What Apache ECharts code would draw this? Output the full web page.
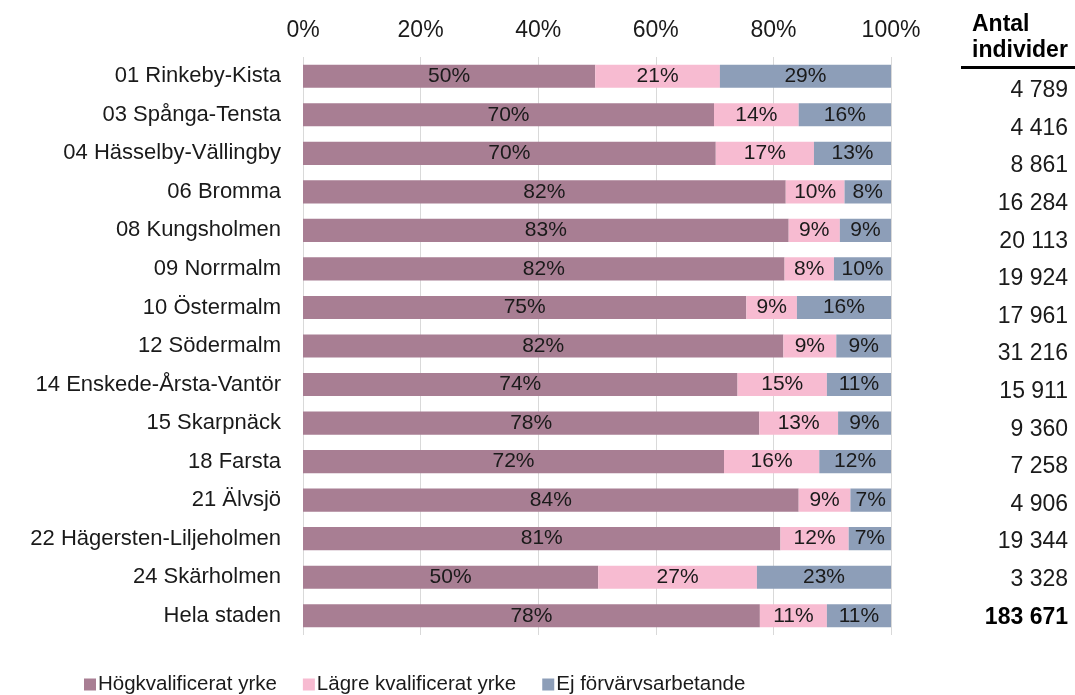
<!DOCTYPE html>
<html>
<head>
<meta charset="utf-8">
<script src="https://cdn.jsdelivr.net/npm/echarts@6/dist/echarts.min.js"></script>
<style>
html,body{margin:0;padding:0;background:#fff;}
#chart{width:1075px;height:695px;}
</style>
</head>
<body>
<div id="chart"></div>
<script>
var categories = ['01 Rinkeby-Kista','03 Spånga-Tensta','04 Hässelby-Vällingby','06 Bromma','08 Kungsholmen','09 Norrmalm','10 Östermalm','12 Södermalm','14 Enskede-Årsta-Vantör','15 Skarpnäck','18 Farsta','21 Älvsjö','22 Hägersten-Liljeholmen','24 Skärholmen','Hela staden'];
var hogkval = [49.7, 69.9, 70.2, 82.1, 82.6, 81.9, 75.4, 81.7, 73.9, 77.6, 71.6, 84.3, 81.2, 50.2, 77.7];
var lagre   = [21.2, 14.4, 16.7, 10.0, 8.7, 8.4, 8.6, 9.0, 15.2, 13.4, 16.2, 8.8, 11.6, 27.0, 11.4];
var ej      = [29.1, 15.7, 13.1, 7.9, 8.7, 9.7, 16.0, 9.3, 10.9, 9.0, 12.2, 6.9, 7.2, 22.8, 10.9];
var antal   = [4789, 4416, 8861, 16284, 20113, 19924, 17961, 31216, 15911, 9360, 7258, 4906, 19344, 3328, 183671];
var xTicks  = ['0%','20%','40%','60%','80%','100%'];
var seriesNames = ['Högkvalificerat yrke','Lägre kvalificerat yrke','Ej förvärvsarbetande'];
var colors = ['#a87e93','#f7bbd1','#8d9eb8'];

var FONT = 'Liberation Sans, Arial, sans-serif';
function fmtNum(n){ return String(n).replace(/\B(?=(\d{3})+(?!\d))/g,' '); }

var chart = echarts.init(document.getElementById('chart'));
function mk(name, data, color){
  return {
    name: name, type: 'bar', stack: 'tot', data: data,
    xAxisIndex: 0, yAxisIndex: 0,
    barWidth: '60%',
    itemStyle: {color: color},
    label: {show: true, position: 'inside', color: '#1a1a1a', fontSize: 21, fontFamily: FONT,
      formatter: function(p){ return Math.round(p.value) + '%'; }}
  };
}
chart.setOption({
  animation: false,
  textStyle: {fontFamily: FONT},
  grid: [
    {left: 303, right: 184, top: 57, bottom: 60},
    {left: 1068, width: 1, top: 72, bottom: 59}
  ],
  xAxis: [
    {type: 'value', gridIndex: 0, min: 0, max: 100, interval: 20, position: 'top',
     axisLine: {show: false}, axisTick: {show: false},
     splitLine: {show: true, lineStyle: {color: '#d9d9d9', width: 1}},
     axisLabel: {fontSize: 23, color: '#1a1a1a', margin: 15, fontFamily: FONT,
       formatter: function(v){ return xTicks[v/20]; }}},
    {type: 'value', gridIndex: 1, show: false}
  ],
  yAxis: [
    {type: 'category', gridIndex: 0, data: categories, inverse: true,
     axisLine: {show: false}, axisTick: {show: false},
     axisLabel: {fontSize: 22, color: '#1a1a1a', margin: 22, fontFamily: FONT}},
    {type: 'category', gridIndex: 1, inverse: true, position: 'left',
     data: antal.map(fmtNum),
     axisLine: {show: false}, axisTick: {show: false},
     axisLabel: {fontSize: 23, color: '#1a1a1a', margin: 0, fontFamily: FONT,
       formatter: function(v, i){ return i === antal.length - 1 ? '{b|' + v + '}' : v; },
       rich: {b: {fontWeight: 'bold', fontSize: 23, color: '#000', fontFamily: FONT}}}}
  ],
  legend: {
    top: 669, left: 79, itemWidth: 12, itemHeight: 12, itemGap: 26,
    icon: 'rect',
    textStyle: {fontSize: 20.5, color: '#1a1a1a', fontFamily: FONT, padding: [0,0,0,-3]},
    data: seriesNames
  },
  graphic: [
    {type: 'text', left: 972, top: 12, style: {text: 'Antal\nindivider', font: 'bold 23px ' + FONT, fill: '#000', textAlign: 'left', lineHeight: 26}},
    {type: 'rect', left: 961, top: 66, shape: {width: 114, height: 3}, style: {fill: '#000'}}
  ],
  series: [
    mk(seriesNames[0], hogkval, colors[0]),
    mk(seriesNames[1], lagre, colors[1]),
    mk(seriesNames[2], ej, colors[2])
  ]
});
</script>
</body>
</html>
